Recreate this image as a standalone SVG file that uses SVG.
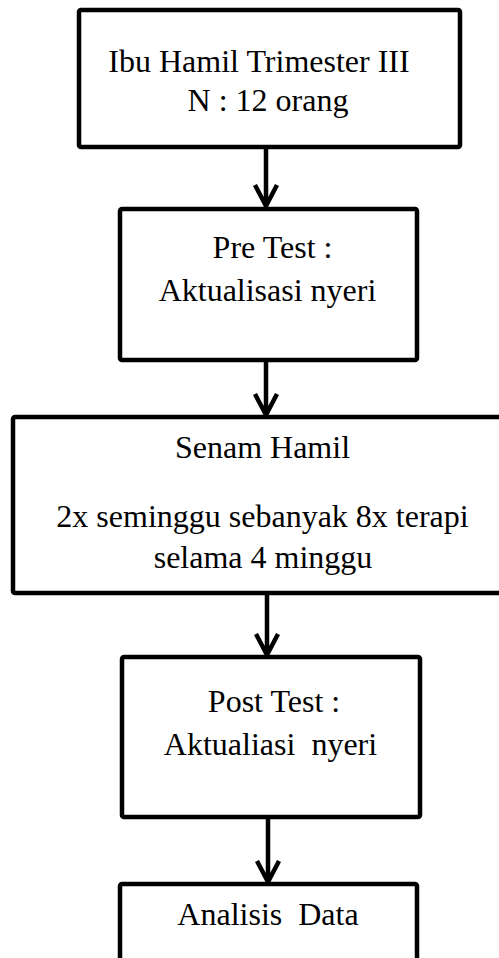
<svg xmlns="http://www.w3.org/2000/svg" width="499" height="958" viewBox="0 0 499 958">
<style>
.box{fill:#fff;stroke:#000;stroke-width:4.5;stroke-linejoin:round}
.t{font-family:"Liberation Serif","Times New Roman",serif;font-size:32px;fill:#000;text-anchor:middle;white-space:pre}
.c{fill:none;stroke:#000;stroke-width:4.5;stroke-linecap:butt;stroke-linejoin:miter}
</style>
<rect width="499" height="958" fill="#fff"/>
<g id="connectors">
<path class="c" d="M266 147 V207 M255 185 L266 206 L277 185"/>
<path class="c" d="M266 360 V415 M255 394 L266 415 L277 394"/>
<path class="c" d="M267 593 V655 M256 634 L267 655 L278 634"/>
<path class="c" d="M268 817 V882 M257 861 L268 882 L279 861"/>
</g>
<g id="node1">
<rect class="box" x="79" y="10" width="381" height="137" rx="2"/>
<text class="t" x="259" y="72">Ibu Hamil Trimester III</text>
<text class="t" x="268" y="111">N : 12 orang</text>
</g>
<g id="node2">
<rect class="box" x="120" y="209" width="297" height="151" rx="2"/>
<text class="t" x="272.5" y="258">Pre Test :</text>
<text class="t" x="267.5" y="301">Aktualisasi nyeri</text>
</g>
<g id="node3">
<rect class="box" x="13" y="417" width="512" height="176" rx="2"/>
<text class="t" x="262.5" y="458">Senam Hamil</text>
<text class="t" x="262.5" y="527">2x seminggu sebanyak 8x terapi</text>
<text class="t" x="263" y="568">selama 4 minggu</text>
</g>
<g id="node4">
<rect class="box" x="122" y="657" width="298" height="160" rx="2"/>
<text class="t" x="274" y="712">Post Test :</text>
<text class="t" x="270.5" y="755" xml:space="preserve">Aktualiasi  nyeri</text>
</g>
<g id="node5">
<rect class="box" x="120" y="884" width="297" height="100" rx="2"/>
<text class="t" x="268" y="925" xml:space="preserve">Analisis  Data</text>
</g>
</svg>
